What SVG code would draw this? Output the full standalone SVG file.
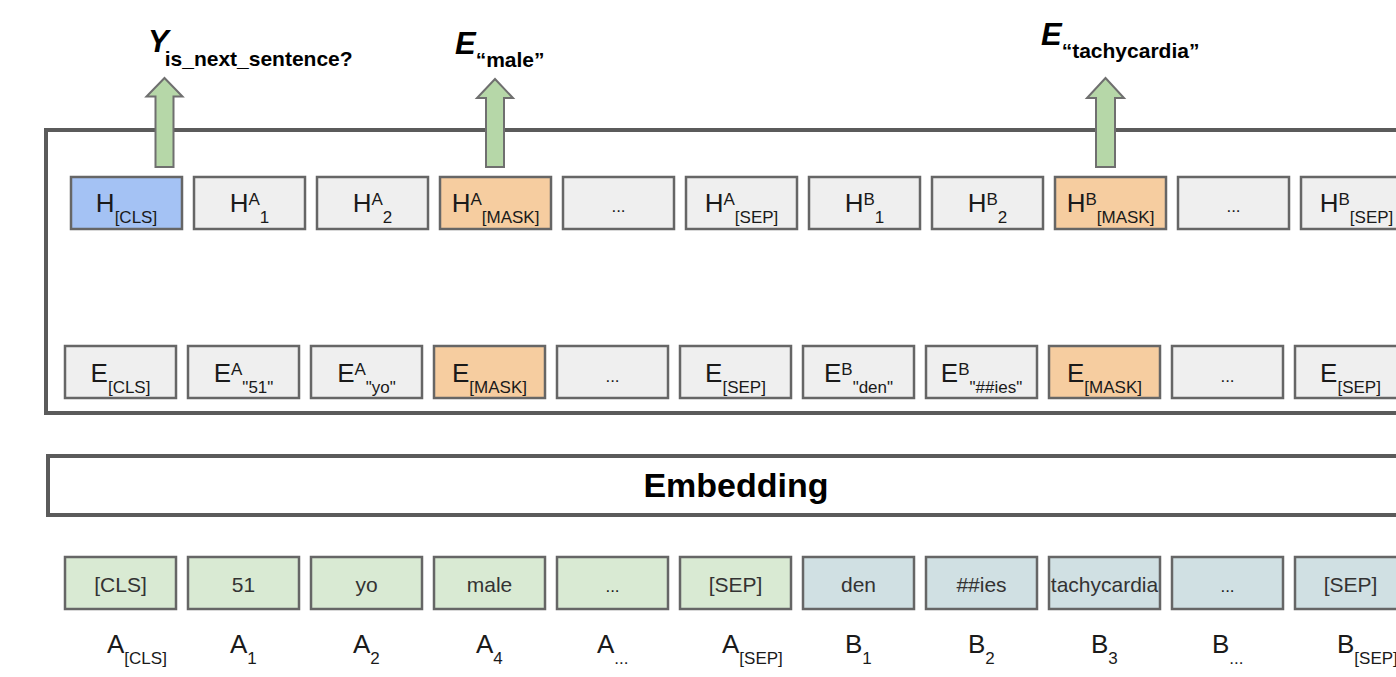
<svg xmlns="http://www.w3.org/2000/svg" width="1396" height="677" viewBox="0 0 1396 677">
<style>
text{font-family:"Liberation Sans",Arial,sans-serif;fill:#1a1a1a}
.frame{fill:none;stroke:#5b5b5b;stroke-width:4}
.box{stroke:#666;stroke-width:2.5}
.g{fill:#efefef}.blue{fill:#a4c2f4}.org{fill:#f6cda0}.grn{fill:#d9ead3}.bg{fill:#d0e0e3}
.m{font-size:26px;text-anchor:middle}
.lab{font-size:26px}
.s{font-size:17px}
.dots{font-size:17px;text-anchor:middle}
.tok{font-size:21px;text-anchor:middle;fill:#333}
.big{font-size:31px;font-weight:bold;font-style:italic;fill:#000}
.bs{font-size:21px;font-weight:bold;font-style:normal}
.arrow{fill:#b6d7a8;stroke:#6f6f6f;stroke-width:2}
.emb{font-size:34px;font-weight:bold;text-anchor:middle;fill:#000}
</style>

<g id="encoder"><rect class="frame" x="46" y="130" width="1400" height="283"/></g>
<g id="embedding"><rect class="frame" x="48" y="456" width="1400" height="59"/><text class="emb" x="736" y="497">Embedding</text></g>

<g id="connectors">
<path class="arrow" d="M164.5 78 L182.5 96.5 L173.5 96.5 L173.5 167 L155.5 167 L155.5 96.5 L146.5 96.5 Z"/>
<path class="arrow" d="M495 79 L513 98 L504 98 L504 167 L486 167 L486 98 L477 98 Z"/>
<path class="arrow" d="M1105.5 78 L1124 98 L1115 98 L1115 167 L1096 167 L1096 98 L1087 98 Z"/>
</g>

<g id="out-nsp"><text class="big" x="148" y="52">Y<tspan class="bs" dx="-4" dy="14">is_next_sentence?</tspan></text></g>
<g id="out-male"><text class="big" x="455" y="54">E<tspan class="bs" dx="0" dy="13">“male”</tspan></text></g>
<g id="out-tachycardia"><text class="big" x="1041" y="45">E<tspan class="bs" dx="0" dy="13">“tachycardia”</tspan></text></g>

<g id="h-cls"><rect class="box blue" x="71" y="177" width="111" height="52"/><text class="m" x="126.5" y="212">H<tspan class="s" dy="11">[CLS]</tspan></text></g>
<g id="h-a1"><rect class="box g" x="194" y="177" width="111" height="52"/><text class="m" x="249.5" y="212">H<tspan class="s" dy="-7">A</tspan><tspan class="s" dy="18">1</tspan></text></g>
<g id="h-a2"><rect class="box g" x="317" y="177" width="111" height="52"/><text class="m" x="372.5" y="212">H<tspan class="s" dy="-7">A</tspan><tspan class="s" dy="18">2</tspan></text></g>
<g id="h-amask"><rect class="box org" x="440" y="177" width="111" height="52"/><text class="m" x="495.5" y="212">H<tspan class="s" dy="-7">A</tspan><tspan class="s" dy="18">[MASK]</tspan></text></g>
<g id="h-adots"><rect class="box g" x="563" y="177" width="111" height="52"/><text class="dots" x="618.5" y="212">...</text></g>
<g id="h-asep"><rect class="box g" x="686" y="177" width="111" height="52"/><text class="m" x="741.5" y="212">H<tspan class="s" dy="-7">A</tspan><tspan class="s" dy="18">[SEP]</tspan></text></g>
<g id="h-b1"><rect class="box g" x="809" y="177" width="111" height="52"/><text class="m" x="864.5" y="212">H<tspan class="s" dy="-7">B</tspan><tspan class="s" dy="18">1</tspan></text></g>
<g id="h-b2"><rect class="box g" x="932" y="177" width="111" height="52"/><text class="m" x="987.5" y="212">H<tspan class="s" dy="-7">B</tspan><tspan class="s" dy="18">2</tspan></text></g>
<g id="h-bmask"><rect class="box org" x="1055" y="177" width="111" height="52"/><text class="m" x="1110.5" y="212">H<tspan class="s" dy="-7">B</tspan><tspan class="s" dy="18">[MASK]</tspan></text></g>
<g id="h-bdots"><rect class="box g" x="1178" y="177" width="111" height="52"/><text class="dots" x="1233.5" y="212">...</text></g>
<g id="h-bsep"><rect class="box g" x="1301" y="177" width="111" height="52"/><text class="m" x="1356.5" y="212">H<tspan class="s" dy="-7">B</tspan><tspan class="s" dy="18">[SEP]</tspan></text></g>

<g id="e-cls"><rect class="box g" x="65" y="346" width="111" height="52"/><text class="m" x="120.5" y="382">E<tspan class="s" dy="11">[CLS]</tspan></text></g>
<g id="e-a51"><rect class="box g" x="188" y="346" width="111" height="52"/><text class="m" x="243.5" y="382">E<tspan class="s" dy="-7">A</tspan><tspan class="s" dy="18">"51"</tspan></text></g>
<g id="e-ayo"><rect class="box g" x="311" y="346" width="111" height="52"/><text class="m" x="366.5" y="382">E<tspan class="s" dy="-7">A</tspan><tspan class="s" dy="18">"yo"</tspan></text></g>
<g id="e-mask1"><rect class="box org" x="434" y="346" width="111" height="52"/><text class="m" x="489.5" y="382">E<tspan class="s" dy="11">[MASK]</tspan></text></g>
<g id="e-adots"><rect class="box g" x="557" y="346" width="111" height="52"/><text class="dots" x="612.5" y="382">...</text></g>
<g id="e-sep1"><rect class="box g" x="680" y="346" width="111" height="52"/><text class="m" x="735.5" y="382">E<tspan class="s" dy="11">[SEP]</tspan></text></g>
<g id="e-bden"><rect class="box g" x="803" y="346" width="111" height="52"/><text class="m" x="858.5" y="382">E<tspan class="s" dy="-7">B</tspan><tspan class="s" dy="18">"den"</tspan></text></g>
<g id="e-bies"><rect class="box g" x="926" y="346" width="111" height="52"/><text class="m" x="981.5" y="382">E<tspan class="s" dy="-7">B</tspan><tspan class="s" dy="18">"##ies"</tspan></text></g>
<g id="e-mask2"><rect class="box org" x="1049" y="346" width="111" height="52"/><text class="m" x="1104.5" y="382">E<tspan class="s" dy="11">[MASK]</tspan></text></g>
<g id="e-bdots"><rect class="box g" x="1172" y="346" width="111" height="52"/><text class="dots" x="1227.5" y="382">...</text></g>
<g id="e-sep2"><rect class="box g" x="1295" y="346" width="111" height="52"/><text class="m" x="1350.5" y="382">E<tspan class="s" dy="11">[SEP]</tspan></text></g>

<g id="t-cls"><rect class="box grn" x="65" y="557" width="111" height="52"/><text class="tok" x="120.5" y="592">[CLS]</text><text class="lab" x="107" y="653">A<tspan class="s" dy="11">[CLS]</tspan></text></g>
<g id="t-51"><rect class="box grn" x="188" y="557" width="111" height="52"/><text class="tok" x="243.5" y="592">51</text><text class="lab" x="230" y="653">A<tspan class="s" dy="11">1</tspan></text></g>
<g id="t-yo"><rect class="box grn" x="311" y="557" width="111" height="52"/><text class="tok" x="366.5" y="592">yo</text><text class="lab" x="353" y="653">A<tspan class="s" dy="11">2</tspan></text></g>
<g id="t-male"><rect class="box grn" x="434" y="557" width="111" height="52"/><text class="tok" x="489.5" y="592">male</text><text class="lab" x="476" y="653">A<tspan class="s" dy="11">4</tspan></text></g>
<g id="t-adots"><rect class="box grn" x="557" y="557" width="111" height="52"/><text class="dots" x="612.5" y="592">...</text><text class="lab" x="597" y="653">A<tspan class="s" dy="11">...</tspan></text></g>
<g id="t-asep"><rect class="box grn" x="680" y="557" width="111" height="52"/><text class="tok" x="735.5" y="592">[SEP]</text><text class="lab" x="722" y="653">A<tspan class="s" dy="11">[SEP]</tspan></text></g>
<g id="t-den"><rect class="box bg" x="803" y="557" width="111" height="52"/><text class="tok" x="858.5" y="592">den</text><text class="lab" x="845" y="653">B<tspan class="s" dy="11">1</tspan></text></g>
<g id="t-ies"><rect class="box bg" x="926" y="557" width="111" height="52"/><text class="tok" x="981.5" y="592">##ies</text><text class="lab" x="968" y="653">B<tspan class="s" dy="11">2</tspan></text></g>
<g id="t-tachycardia"><rect class="box bg" x="1049" y="557" width="111" height="52"/><text class="tok" x="1104.5" y="592">tachycardia</text><text class="lab" x="1091" y="653">B<tspan class="s" dy="11">3</tspan></text></g>
<g id="t-bdots"><rect class="box bg" x="1172" y="557" width="111" height="52"/><text class="dots" x="1227.5" y="592">...</text><text class="lab" x="1212" y="653">B<tspan class="s" dy="11">...</tspan></text></g>
<g id="t-bsep"><rect class="box bg" x="1295" y="557" width="111" height="52"/><text class="tok" x="1350.5" y="592">[SEP]</text><text class="lab" x="1337" y="653">B<tspan class="s" dy="11">[SEP]</tspan></text></g>
</svg>
